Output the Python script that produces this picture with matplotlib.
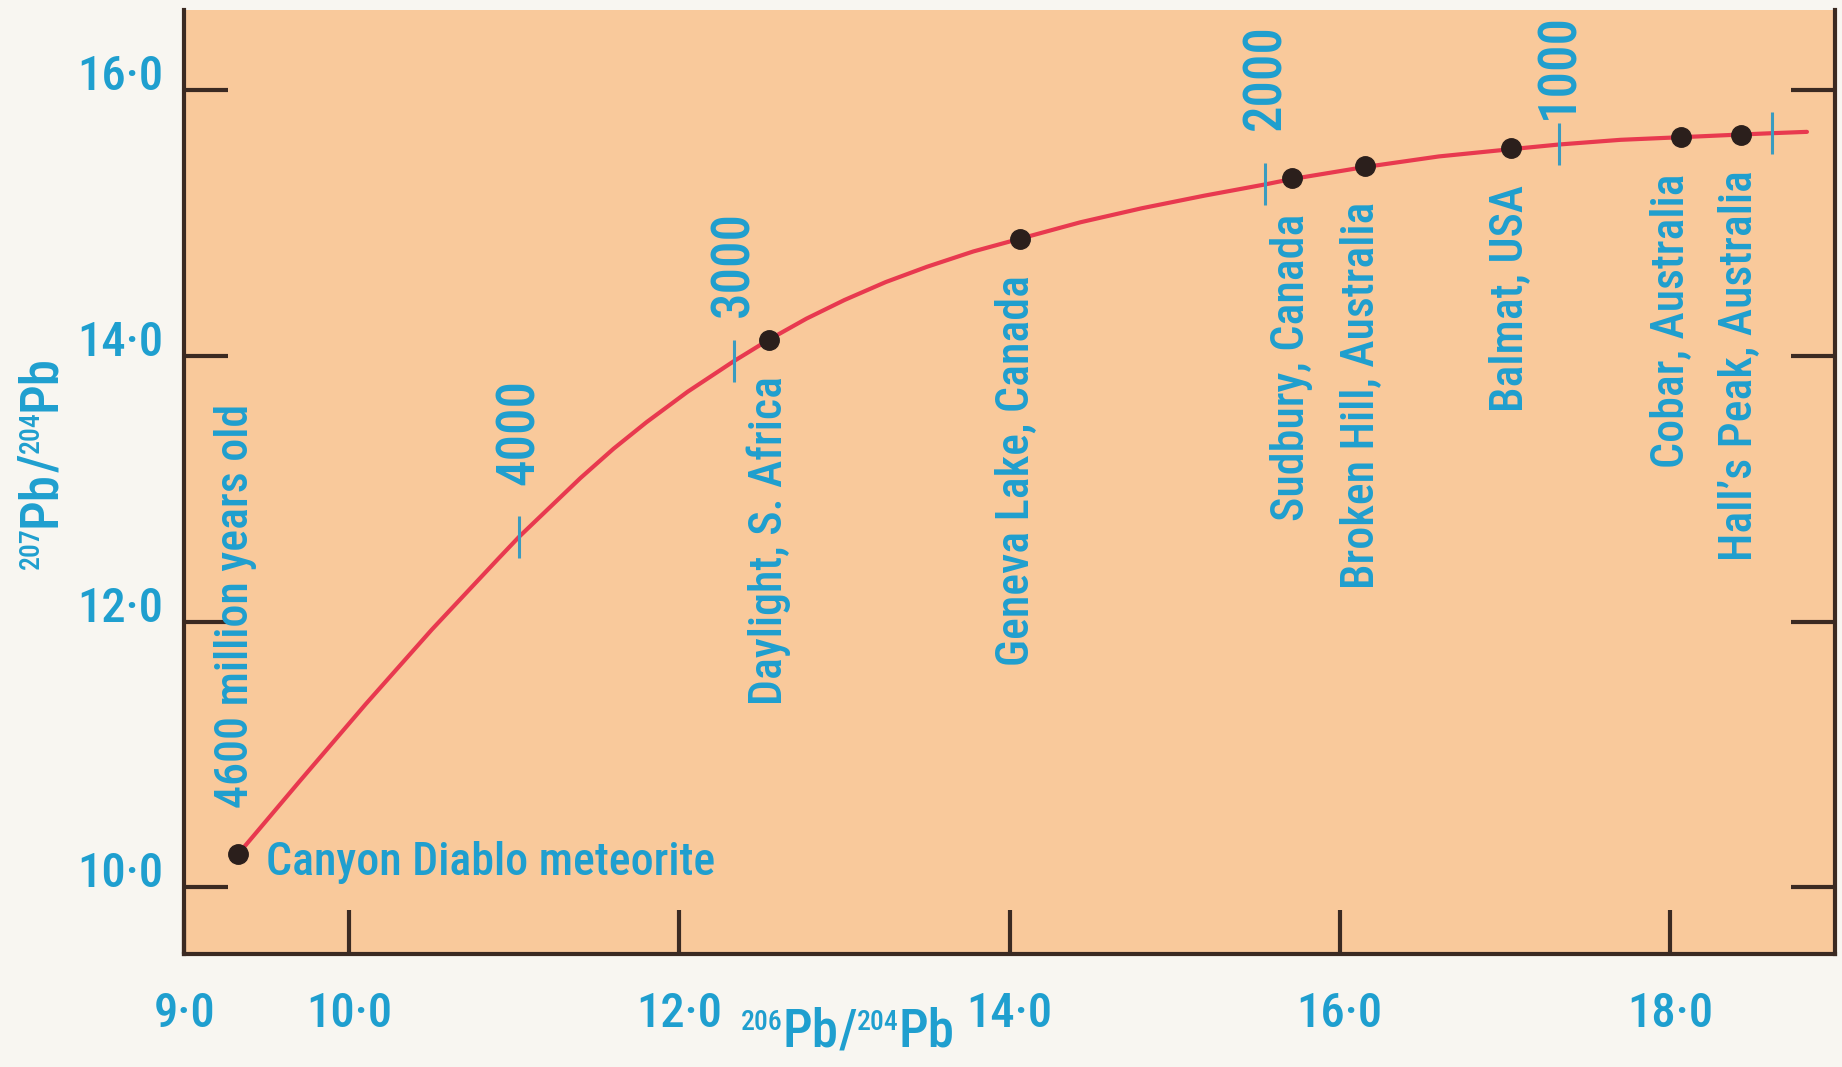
import matplotlib
matplotlib.use("Agg")
from matplotlib import pyplot as plt

# lead growth curve
curve_x = [9.326, 9.70, 10.10, 10.50, 10.90, 11.03, 11.40, 11.60, 11.80, 12.05, 12.33,
           12.54, 12.77, 13.00, 13.25, 13.50, 13.78, 14.06, 14.43, 14.80, 15.18, 15.55,
           15.71, 16.15, 16.60, 17.04, 17.33, 17.70, 18.07, 18.43, 18.62, 18.83]
curve_y = [10.25, 10.80, 11.38, 11.94, 12.47, 12.64, 13.08, 13.30, 13.50, 13.73, 13.96,
           14.12, 14.28, 14.42, 14.555, 14.67, 14.785, 14.88, 15.005, 15.11, 15.205, 15.29,
           15.33, 15.42, 15.50, 15.555, 15.59, 15.625, 15.645, 15.665, 15.675, 15.685]

# ore deposits
site_names = ["Canyon Diablo meteorite", "Daylight, S. Africa", "Geneva Lake, Canada",
              "Sudbury, Canada", "Broken Hill, Australia", "Balmat, USA",
              "Cobar, Australia", "Hall\u2019s Peak, Australia"]
site_x = [9.326, 12.54, 14.06, 15.71, 16.15, 17.04, 18.07, 18.43]
site_y = [10.25, 14.12, 14.88, 15.34, 15.43, 15.56, 15.645, 15.665]

# age marks on the curve (million years)
age_labels = ["4000", "3000", "2000", "1000", ""]
age_x = [11.03, 12.33, 15.55, 17.33, 18.62]
age_y = [12.64, 13.96, 15.29, 15.59, 15.675]

xticks = [9.0, 10.0, 12.0, 14.0, 16.0, 18.0]
yticks = [10.0, 12.0, 14.0, 16.0]

BLUE = "#1f9fcf"
plt.rcParams["font.family"] = ["Roboto Condensed", "Archivo Narrow", "DejaVu Sans"]
plt.rcParams["font.weight"] = 500

fig = plt.figure(figsize=(18.42, 10.67), dpi=100, facecolor="#f8f6f1")
ax = fig.add_axes([0.100, 0.106, 0.8962, 0.8844])
ax.set_facecolor("#f9c99b")
ax.set_xlim(9.0, 19.0)
ax.set_ylim(9.5, 16.6)
renderer = fig.canvas.get_renderer()


def isotope_label(ax, parts, x, y, vertical=False):
    # parts: (text, fontsize, rise in points); centred on (x, y) in axes fraction
    rot = 90 if vertical else 0
    sizes = []
    for s, fs, rise in parts:
        t = ax.text(0, 0, s, fontsize=fs)
        sizes.append(t.get_window_extent(renderer).width * 72 / fig.dpi)
        t.remove()
    pos = -sum(sizes) / 2
    for (s, fs, rise), w in zip(parts, sizes):
        off = (-rise, pos) if vertical else (pos, rise)
        ax.annotate(s, (x, y), xycoords="axes fraction", xytext=off,
                    textcoords="offset points", fontsize=fs, color=BLUE, rotation=rot,
                    rotation_mode="anchor", ha="left", va="baseline",
                    annotation_clip=False)
        pos += w


ax.plot(curve_x, curve_y, color="#e8394f", lw=3, solid_capstyle="round",
        solid_joinstyle="round", zorder=2)
ax.plot(age_x, age_y, ls="none", marker="|", ms=30, mew=2.2, color="#3a9cc0", zorder=3)
ax.plot(site_x, site_y, ls="none", marker="o", ms=14, color="#2b1f1c", zorder=4)

LABEL_SIZE = 33

# age labels above the tick marks
age_off = [37, 32, 39, 18, 0]
for lab, x, y, off in zip(age_labels, age_x, age_y, age_off):
    if lab:
        ax.annotate(lab, (x, y), xytext=(0, off), textcoords="offset points",
                    rotation=90, ha="center", va="bottom", fontsize=38, color=BLUE)

# deposit labels below the dots
site_dx = [0, 0, -3, 0, -3, -1, -8, -2]
for i, (name, x, y) in enumerate(zip(site_names, site_x, site_y)):
    if i == 0:
        ax.annotate(name, (x, y), xytext=(20, -6), textcoords="offset points",
                    ha="left", va="center", fontsize=LABEL_SIZE, color=BLUE)
        ax.annotate("4600 million years old", (x, y), xytext=(-2, 33),
                    textcoords="offset points", rotation=90, ha="center", va="bottom",
                    fontsize=LABEL_SIZE, color=BLUE)
    else:
        ax.annotate(name, (x, y), xytext=(site_dx[i], -26), textcoords="offset points",
                    rotation=90, ha="center", va="top", fontsize=LABEL_SIZE, color=BLUE)

ax.set_xticks(xticks, ["%d\u00b70" % t for t in xticks], fontsize=35, color=BLUE)
ax.set_yticks(yticks, ["%d\u00b70" % t for t in yticks], fontsize=35, color=BLUE,
              va="baseline")
ax.tick_params(axis="x", direction="in", length=32, width=3, color="#3b2a22", pad=27)
ax.tick_params(axis="y", direction="in", length=32, width=3, color="#3b2a22", pad=15,
               right=True)

for side in ["left", "bottom", "right"]:
    ax.spines[side].set_linewidth(3)
    ax.spines[side].set_color("#3b2a22")
ax.spines["top"].set_visible(False)

# axis titles with small raised mass numbers
isotope_label(ax, [("206", 20, 12), ("Pb", 38, 0), ("/", 38, 0), ("204", 20, 12),
                   ("Pb", 38, 0)], 0.402, -0.098)
isotope_label(ax, [("207", 20, 12), ("Pb", 38, 0), ("/", 38, 0), ("204", 20, 12),
                   ("Pb", 38, 0)], -0.078, 0.521, vertical=True)

fig.savefig("out.png", dpi=100, facecolor=fig.get_facecolor())
